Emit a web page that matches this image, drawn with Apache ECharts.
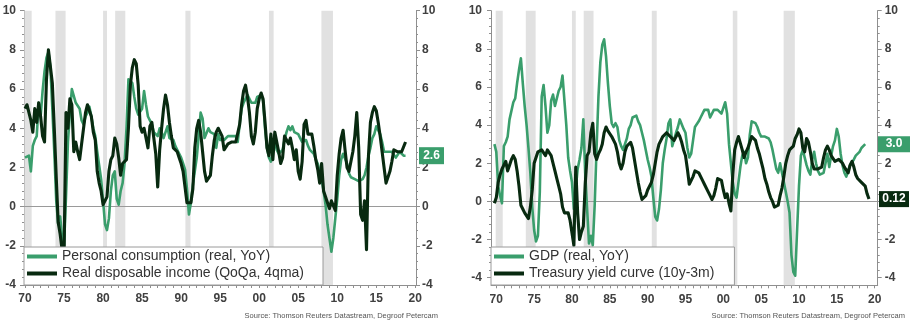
<!DOCTYPE html>
<html>
<head>
<meta charset="utf-8">
<script src="https://cdn.jsdelivr.net/npm/echarts@6/dist/echarts.min.js"></script>
<style>
  html, body { margin: 0; padding: 0; background: #fff; }
  #chart { width: 918px; height: 326px; }
</style>
</head>
<body>
<div id="chart"></div>
<script>
// ---- Data (quarterly, % YoY unless noted) ----
const consumptionStart = 1970;      // first quarter of the left-panel series
const consumption = [
  2.5, 2.4, 2.6, 1.8,   3.1, 3.4, 3.6, 5.3,   4.6, 5.9, 6.9, 7.6,   7.9, 7.1, 5.0, 2.8,
  0.3, -0.9, -0.5, -1.6, -2.0, 0.5, 3.3, 4.8,  6.0, 5.9, 5.3, 5.4,   5.0, 4.4, 4.2, 4.6,
  4.8, 5.1, 4.6, 4.0,   3.6, 2.8, 2.1, 1.4,   0.3, -0.9, -1.2, -0.6, 0.8, 1.6, 1.8, 0.4,
  0.1, 0.8, 1.2, 2.2,   4.0, 6.5, 6.6, 6.3,   5.6, 5.0, 4.7, 4.6,   5.0, 5.9, 5.2, 4.6,
  4.4, 4.2, 3.8, 3.9,   3.6, 4.0, 3.8, 3.5,   3.4, 4.1, 3.5, 3.5,   3.4, 3.1, 2.9, 2.9,
  2.5, 2.2, 1.9, 0.9,   -0.4, 0.2, 1.1, 1.8,  2.5, 3.6, 4.8, 4.5,   3.5, 3.6, 4.0, 3.8,
  3.9, 3.7, 3.0, 3.7,   3.4, 3.5, 3.4, 3.5,   3.6, 3.5, 3.6, 3.5,   3.6, 3.3, 4.2, 5.0,
  5.3, 5.5, 5.7, 5.5,   5.3, 5.2, 5.3, 5.6,   5.6, 5.7, 5.4, 4.0,   3.0, 2.5, 2.3, 2.8,
  3.4, 2.9, 2.7, 2.7,   2.9, 3.4, 3.8, 4.1,   3.9, 4.1, 3.8, 3.8,   3.7, 3.5, 3.3, 3.4,
  3.4, 3.1, 2.9, 2.8,   2.7, 2.4, 2.2, 1.8,   1.4, 0.8, 0.1, -0.9,  -1.6, -2.3, -1.6, -0.6,
  0.4, 1.6, 2.4, 2.7,   2.8, 2.2, 1.7, 1.5,   1.4, 1.4, 1.3, 1.3,   1.3, 1.4, 1.6, 2.0,
  2.6, 3.0, 3.5, 3.7,   4.1, 4.2, 3.7, 3.3,   2.8, 2.7, 2.8, 2.7,   2.8, 2.7, 2.5, 2.6,
  2.8, 2.7, 2.6, 2.6
];
// Real disposable income, QoQ annualised, 4-quarter moving average
const income = [
  5.0, 5.2, 5.2, 4.4,   3.8, 5.0, 4.3, 5.3,   4.6, 3.6, 3.3, 6.5,   8.0, 7.9, 6.3, 4.0,
  1.5, -0.8, -1.4, -2.2, -2.5, 4.8, 4.0, 5.5,  5.2, 2.8, 3.3, 2.8,   2.4, 3.2, 4.0, 4.8,
  5.2, 5.2, 4.6, 3.8,   3.4, 1.8, 1.2, 0.8,   0.1, 0.1, 0.5, 1.8,   2.4, 2.6, 3.5, 3.2,
  2.5, 1.6, 2.2, 2.3,   2.4, 4.0, 6.2, 7.1,   7.5, 7.3, 6.2, 4.1,   3.8, 4.0, 3.5, 3.0,
  4.1, 4.3, 3.5, 2.7,   1.0, 2.9, 4.0, 5.0,   5.7, 5.2, 4.3, 3.6,   3.0, 2.9, 2.8, 2.5,
  2.2, 1.8, 1.0, 0.2,   0.1, 0.2, 0.9, 3.0,   4.0, 4.4, 3.8, 2.8,   1.8, 1.3, 1.2, 1.6,
  2.6, 3.4, 3.8, 4.0,   4.0, 3.6, 2.9, 2.8,   3.2, 3.3, 3.3, 3.4,   3.3, 3.4, 4.2, 5.2,
  5.9, 6.2, 5.6, 4.8,   3.6, 3.2, 3.8, 5.0,   5.5, 5.8, 5.5, 4.3,   3.0, 2.6, 3.7, 2.4,
  3.8, 3.9, 2.8, 2.2,   2.5, 3.6, 3.4, 3.2,   3.5, 3.0, 2.4, 2.9,   1.8, 1.4, 2.3, 4.2,
  4.4, 3.7, 3.8, 3.7,   3.1, 2.4, 1.9, 1.2,   2.2, 0.8, 0.5, 0.2,   -0.1, 0.3, 0.2, -0.2,
  1.6, 2.7, 3.5, 3.9,   2.9, 2.0, 1.8, 1.7,   2.8, 3.6, 4.8, 3.0,   -0.4, -0.7, 0.3, -2.2,
  2.6, 4.3, 4.8, 5.1,   4.9, 4.3, 3.6, 2.8,   2.0, 1.2, 1.2, 1.8,   2.3, 2.9, 2.9, 2.8,
  2.7, 2.8, 2.9, 3.3
];

const gdpStart = 1969.75;           // first quarter of the real GDP series
const gdp = [
  3.0,
  2.6, 0.8, 0.3, -0.1,  2.9, 3.1, 3.4, 4.3,   4.4, 5.2, 5.4, 6.2,   6.9, 7.5, 6.2, 5.0,
  4.0, 2.8, 1.5, -0.3,  -1.5, -2.1, -1.8, 0.5, 5.5, 6.1, 5.0, 3.6,  4.0, 5.3, 5.6, 5.0,
  5.0, 5.8, 6.0, 6.6,   6.5, 4.0, 2.3, 1.6,   1.0, -0.4, -0.3, 1.7,  2.2, 2.8, 4.3, 1.5,
  -0.4, -2.2, -1.8, -2.3, -0.2, 2.8, 5.5, 7.3, 8.2, 8.5, 7.6, 6.2,   5.0, 4.1, 3.9, 4.1,
  3.9, 3.2, 2.9, 2.7,   3.0, 3.3, 3.8, 4.0,   4.4, 4.3, 4.5, 4.2,   4.0, 3.6, 3.2, 2.7,
  2.2, 1.8, 1.3, 0.2,   -0.8, -1.0, -0.4, 0.6, 2.0, 2.7, 3.3, 4.1,  4.3, 2.9, 2.8, 3.6,
  3.9, 4.3, 4.2, 3.8,   3.6, 2.8, 2.3, 2.5,   3.2, 3.9, 4.0, 4.2,   4.4, 4.5, 4.8, 4.7,
  4.8, 4.4, 4.3, 4.8,   4.7, 4.8, 4.7, 4.6,   4.5, 5.2, 4.6, 3.0,   2.0, 1.0, 0.4, 0.2,
  1.0, 1.8, 2.4, 2.6,   2.0, 2.3, 3.5, 4.2,   4.3, 4.1, 3.9, 3.6,   3.4, 3.3, 3.4, 3.3,
  3.3, 3.1, 2.7, 2.2,   1.7, 1.5, 2.0, 1.9,   1.0, 0.5, 0.0, -0.6,  -2.8, -3.7, -3.9, -1.5,
  0.8, 2.4, 2.7, 2.8,   1.9, 1.6, 1.4, 2.2,   2.6, 2.0, 1.6, 1.4,   1.3, 1.5, 2.0, 2.5,
  1.8, 2.4, 2.9, 3.2,   3.8, 3.4, 2.5, 1.9,   1.5, 1.3, 1.6, 1.9,   2.0, 2.2, 2.4, 2.5,
  2.6, 2.8, 2.9, 3.0
];

const curveStart = 1969.75;         // first quarter of the 10y-3m spread
const yieldCurve = [
  -0.1,
  0.2, 1.0, 1.4, 1.7,   1.9, 2.1, 1.6, 1.9,   2.2, 2.4, 2.2, 1.6,   0.8, -0.2, -0.4, -0.6,
  -0.7, -0.9, -0.3, 0.6, 2.0, 2.3, 2.6, 2.6,  2.7, 2.6, 2.4, 2.7,   2.6, 2.4, 2.0, 1.6,
  1.2, 0.8, 0.4, -0.3,  -0.6, -0.5, -0.6, -1.0, -0.9, -2.3, 1.8, -0.6, -2.0, -1.6, -1.3, 0.9,
  2.4, 2.6, 3.6, 4.1,   2.5, 2.2, 2.5, 2.7,   3.0, 3.6, 3.9, 3.7,   3.7, 3.4, 3.3, 3.0,
  2.6, 2.0, 1.7, 2.0,   2.6, 2.9, 3.0, 3.1,   2.8, 2.2, 1.6, 1.0,   0.5, 0.1, 0.0, 0.3,
  0.6, 0.7, 1.0, 1.4,   2.0, 2.6, 3.0, 3.2,   3.4, 3.5, 3.6, 3.5,   3.4, 3.3, 3.2, 3.4,
  3.6, 3.4, 3.1, 2.7,   2.4, 1.7, 0.9, 0.8,   1.3, 1.6, 1.7, 1.5,   1.5, 1.1, 0.9, 0.8,
  0.5, 0.3, 0.1, 0.3,   0.7, 1.2, 1.2, 1.1,   0.6, 0.2, 0.4, -0.1,  -0.5, 1.4, 2.7, 3.1,
  3.4, 3.3, 2.7, 2.3,   2.6, 2.8, 2.9, 3.4,   3.5, 3.2, 2.8, 2.5,   2.1, 1.7, 1.2, 0.9,
  0.5, 0.2, 0.0, -0.3,  -0.2, -0.2, 0.3, 0.7,  1.3, 2.0, 2.4, 2.7,   2.8, 2.9, 3.3, 3.5,
  3.8, 3.6, 2.8, 2.6,   3.3, 3.1, 2.6, 2.0,   1.7, 1.8, 1.7, 1.6,   1.8, 2.3, 2.7, 2.9,
  2.7, 2.4, 2.3, 2.1,   2.0, 2.2, 2.1, 2.0,   1.8, 1.7, 1.5, 1.9,   2.1, 1.8, 1.4, 1.2,
  1.1, 1.0, 0.9, 0.8,   0.4, 0.12
];

// US recessions (NBER), decimal years
const recessions = [
  [1969.92, 1970.85], [1973.9, 1975.2], [1980.0, 1980.5], [1981.55, 1982.85],
  [1990.55, 1991.2], [2001.25, 2001.85], [2007.97, 2009.45]
];

const yTickLabels = [-4, -2, 0, 2, 4, 6, 8, 10];
const xTickLabels = [1970, 1975, 1980, 1985, 1990, 1995, 2000, 2005, 2010, 2015, 2020];
const namesLeft = ['Personal consumption (real, YoY)', 'Real disposable income (QoQa, 4qma)'];
const namesRight = ['GDP (real, YoY)', 'Treasury yield curve (10y-3m)'];
const sourceText = 'Source: Thomson Reuters Datastream, Degroof Petercam';

// ---- Styling ----
const GREEN = '#3a9e6c';
const DARK = '#082a10';
const AXIS = '#8f8f8f';
const LABEL = '#404040';
const FONT = '"Liberation Sans", Arial, sans-serif';

const yearTicks = [];
for (let y = 1970; y <= 2020; y++) yearTicks.push(y);
const minorY = [];
for (let k = -10; k <= 25; k++) minorY.push(Math.round(k * 4) / 10);

const quarterly = (start, values) => values.map((v, i) => [start + i * 0.25, v]);

const leftX = { min: 1969.87, max: 2020.09 };
const rightX = { min: 1969.3, max: 2020.4 };

function xAxisFor(gridIndex, range) {
  return {
    type: 'value', gridIndex, min: range.min, max: range.max,
    axisLine: { show: true, onZero: false, lineStyle: { color: AXIS, width: 1 } },
    axisTick: { show: true, customValues: yearTicks, length: 3, lineStyle: { color: AXIS } },
    axisLabel: {
      customValues: xTickLabels, color: LABEL, fontWeight: 'bold', fontSize: 12,
      fontFamily: FONT, margin: 8,
      formatter: v => String(Math.round(v)).slice(2)
    },
    splitLine: { show: false }
  };
}

function yAxesFor(gridIndex, min, position, margin) {
  return [
    {
      type: 'value', gridIndex, position, min, max: 10,
      axisLine: { show: true, onZero: false, lineStyle: { color: AXIS, width: 1 } },
      axisTick: { show: true, customValues: yTickLabels, length: 4, lineStyle: { color: AXIS } },
      axisLabel: { customValues: yTickLabels, color: LABEL, fontWeight: 'bold', fontSize: 12, fontFamily: FONT, margin },
      splitLine: { show: false }
    },
    {
      type: 'value', gridIndex, position, min, max: 10,
      axisLine: { show: false },
      axisTick: { show: true, customValues: minorY, length: 2, lineStyle: { color: AXIS } },
      axisLabel: { show: false },
      splitLine: { show: false }
    }
  ];
}

// recession shading and the zero line, drawn under the data lines
function backdrop(xAxisIndex, yAxisIndex) {
  return {
    type: 'line', xAxisIndex, yAxisIndex, data: [], silent: true, z: 1,
    markArea: {
      silent: true, z: 1, itemStyle: { color: '#e1e1e1' },
      data: recessions.map(r => [{ xAxis: r[0] }, { xAxis: r[1] }])
    },
    markLine: {
      silent: true, z: 1, symbol: ['none', 'none'], label: { show: false },
      lineStyle: { color: '#9a9a9a', width: 1, type: 'solid' },
      data: [{ yAxis: 0 }]
    }
  };
}

function valueBox(xAt, value, color, digits, size, offset) {
  return {
    silent: true, symbol: 'rect', symbolSize: size, symbolOffset: [offset, 0],
    itemStyle: { color },
    label: {
      show: true, position: 'inside', color: '#fff', fontWeight: 'bold',
      fontSize: 12, fontFamily: FONT, formatter: p => p.value.toFixed(digits)
    },
    data: [{ coord: [xAt, value], value }]
  };
}

function lineSeries(name, data, color, width, xAxisIndex, yAxisIndex, z, box) {
  return {
    name, type: 'line', data, xAxisIndex, yAxisIndex, z,
    showSymbol: false, symbol: 'none',
    lineStyle: { color, width, join: 'round' },
    itemStyle: { color },
    markPoint: box
  };
}

function legendFor(left, names, padRight) {
  return {
    left, top: 247, orient: 'vertical', selectedMode: false,
    data: names, icon: 'rect', itemWidth: 30, itemHeight: 4, itemGap: 0,
    padding: [1, padRight, 3, 3],
    backgroundColor: '#fff', borderColor: '#9a9a9a', borderWidth: 1, borderRadius: 0,
    textStyle: { fontSize: 14, color: '#333', fontFamily: FONT, lineHeight: 17 }
  };
}

const lastC = consumption[consumption.length - 1];
const lastG = gdp[gdp.length - 1];
const lastY = yieldCurve[yieldCurve.length - 1];

const option = {
  animation: false,
  textStyle: { fontFamily: FONT },
  title: [
    { text: sourceText, right: 480, top: 312, padding: 0,
      textStyle: { fontSize: 7.5, fontWeight: 'normal', color: '#555', fontFamily: FONT } },
    { text: sourceText, right: 13, top: 312, padding: 0,
      textStyle: { fontSize: 7.5, fontWeight: 'normal', color: '#555', fontFamily: FONT } }
  ],
  grid: [
    { left: 24, top: 10.7, width: 392, height: 274.3, outerBoundsMode: 'none' },
    { left: 491, top: 10.7, width: 386.7, height: 274.6, outerBoundsMode: 'none' }
  ],
  xAxis: [xAxisFor(0, leftX), xAxisFor(1, rightX)],
  yAxis: [
    ...yAxesFor(0, -4, 'left', 8),
    ...yAxesFor(0, -4, 'right', 6),
    ...yAxesFor(1, -4.4, 'left', 9),
    ...yAxesFor(1, -4.4, 'right', 7)
  ],
  legend: [legendFor(24, namesLeft, 19), legendFor(491, namesRight, 20)],
  series: [
    backdrop(0, 0),
    backdrop(1, 4),
    lineSeries(namesLeft[0], quarterly(consumptionStart, consumption), GREEN, 2.6, 0, 0, 2,
      valueBox(leftX.max - 0.001, lastC, GREEN, 1, [25, 17], 15.5)),
    lineSeries(namesLeft[1], quarterly(consumptionStart, income), DARK, 3.1, 0, 0, 3),
    lineSeries(namesRight[0], quarterly(gdpStart, gdp), GREEN, 2.6, 1, 4, 2,
      valueBox(rightX.max - 0.001, lastG, GREEN, 1, [32, 16], 16.3)),
    lineSeries(namesRight[1], quarterly(curveStart, yieldCurve), DARK, 3.1, 1, 4, 3,
      valueBox(rightX.max - 0.001, lastY, DARK, 2, [30, 16], 16.3))
  ]
};

const chart = echarts.init(document.getElementById('chart'), null, { renderer: 'canvas' });
chart.setOption(option);
</script>
</body>
</html>
